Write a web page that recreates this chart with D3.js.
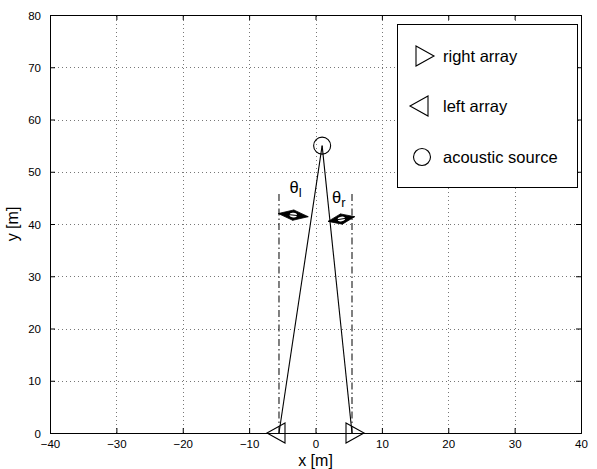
<!DOCTYPE html>
<html>
<head>
<meta charset="utf-8">
<script src="https://cdn.jsdelivr.net/npm/d3@7"></script>
<style>
  html, body { margin: 0; padding: 0; background: #fff; }
  svg { display: block; font-family: "Liberation Sans", Arial, Helvetica, sans-serif; }
</style>
</head>
<body>
<svg id="chart" width="597" height="469"></svg>
<script>
// Geometry of the two-array acoustic localisation setup
const xDomain = [-40, 40];
const yDomain = [0, 80];
const xTicks = [-40, -30, -20, -10, 0, 10, 20, 30, 40];
const yTicks = [0, 10, 20, 30, 40, 50, 60, 70, 80];

const rightArray = [5.5, 0];
const leftArray = [-5.5, 0];
const source = [1, 55];

// vertical reference lines through each array (dash-dot)
const refLines = [
  [[-5.5, 0], [-5.5, 46]],
  [[5.5, 0], [5.5, 46]]
];

// double-headed arrows marking the bearing angles
const angleArrows = [
  [[-5.6, 42.0], [-1.1, 41.4]],
  [[1.9, 40.5], [5.9, 41.4]]
];

const angleLabels = [
  { pos: [-3.9, 45.9], main: "θ", sub: "l" },
  { pos: [2.5, 44.0], main: "θ", sub: "r" }
];

const legendItems = [
  { marker: "right", label: "right array" },
  { marker: "left", label: "left array" },
  { marker: "circle", label: "acoustic source" }
];

const W = 597, H = 469;
const margin = { left: 50, right: 16, top: 15, bottom: 36 };
const svg = d3.select("#chart");

const x = d3.scaleLinear().domain(xDomain).range([margin.left, W - margin.right]);
const y = d3.scaleLinear().domain(yDomain).range([H - margin.bottom, margin.top]);

const x0 = x.range()[0], x1 = x.range()[1];
const y0 = y.range()[0], y1 = y.range()[1];

// grid
const grid = svg.append("g").attr("stroke", "#777").attr("stroke-width", 1)
  .attr("stroke-dasharray", "1,3").attr("shape-rendering", "crispEdges");
grid.selectAll(".gx").data(xTicks.slice(1, -1)).join("line")
  .attr("x1", d => Math.round(x(d)) + 0.5).attr("x2", d => Math.round(x(d)) + 0.5)
  .attr("y1", y0).attr("y2", y1);
grid.selectAll(".gy").data(yTicks.slice(1, -1)).join("line")
  .attr("y1", d => Math.round(y(d)) + 0.5).attr("y2", d => Math.round(y(d)) + 0.5)
  .attr("x1", x0).attr("x2", x1);

// axes with inward ticks on all four sides
const fmt = d => (d < 0 ? "\u2212" + Math.abs(d) : String(d));
const tickLen = 5;

const axB = svg.append("g").attr("transform", `translate(0,${y0})`)
  .call(d3.axisBottom(x).tickValues(xTicks).tickSize(-tickLen).tickPadding(7).tickFormat(fmt));
const axT = svg.append("g").attr("transform", `translate(0,${y1})`)
  .call(d3.axisTop(x).tickValues(xTicks).tickSize(-tickLen).tickFormat(""));
const axL = svg.append("g").attr("transform", `translate(${x0},0)`)
  .call(d3.axisLeft(y).tickValues(yTicks).tickSize(-tickLen).tickPadding(9).tickFormat(fmt));
const axR = svg.append("g").attr("transform", `translate(${x1},0)`)
  .call(d3.axisRight(y).tickValues(yTicks).tickSize(-tickLen).tickFormat(""));

[axB, axT, axL, axR].forEach(a => {
  a.select(".domain").attr("stroke", "#000").attr("stroke-width", 1);
  a.selectAll(".tick line").attr("stroke", "#000");
  a.selectAll("text").attr("fill", "#000").attr("font-size", 11.5)
    .attr("font-family", "'Liberation Sans', Arial, sans-serif");
});
axL.selectAll("text").attr("dy", "0.35em");

// axis titles
svg.append("text").attr("x", (x0 + x1) / 2).attr("y", 465.5)
  .attr("text-anchor", "middle").attr("font-size", 16).text("x [m]");
svg.append("text").attr("transform", `translate(18,${(y0 + y1) / 2}) rotate(-90)`)
  .attr("text-anchor", "middle").attr("font-size", 16).text("y [m]");

const plot = svg.append("g");

// dash-dot reference verticals
plot.selectAll(".ref").data(refLines).join("line")
  .attr("x1", d => x(d[0][0])).attr("y1", d => y(d[0][1]))
  .attr("x2", d => x(d[1][0])).attr("y2", d => y(d[1][1]))
  .attr("stroke", "#000").attr("stroke-width", 1)
  .attr("stroke-dasharray", "7,3,1.5,3");

// lines of sight from each array to the source
plot.selectAll(".sight").data([leftArray, rightArray]).join("line")
  .attr("x1", d => x(d[0])).attr("y1", d => y(d[1]))
  .attr("x2", x(source[0])).attr("y2", y(source[1]))
  .attr("stroke", "#000").attr("stroke-width", 1.1);

// marker shapes, centred on the centroid like the plotting convention
function markerPath(type) {
  if (type === "right") return "M-6,-10L12,0L-6,10Z";
  if (type === "left") return "M6,-10L-12,0L6,10Z";
  return d3.arc()({ innerRadius: 0, outerRadius: 8.5, startAngle: 0, endAngle: 2 * Math.PI });
}

const markers = [
  { pos: rightArray, type: "right" },
  { pos: leftArray, type: "left" },
  { pos: source, type: "circle" }
];
plot.selectAll(".mk").data(markers).join("path")
  .attr("transform", d => `translate(${x(d.pos[0])},${y(d.pos[1])})`)
  .attr("d", d => markerPath(d.type))
  .attr("fill", "none").attr("stroke", "#000").attr("stroke-width", 1.1);

// double-headed angle arrows
const arrows = plot.selectAll(".arr").data(angleArrows).join("g");
arrows.each(function (d) {
  const g = d3.select(this);
  const ax = x(d[0][0]), ay = y(d[0][1]);
  const bx = x(d[1][0]), by = y(d[1][1]);
  const len = Math.hypot(bx - ax, by - ay);
  const ux = (bx - ax) / len, uy = (by - ay) / len;
  const px = -uy, py = ux;
  const hl = len / 2, hw = 5.2;
  const head = (tx, ty, dir) => {
    const bxh = tx - dir * ux * hl, byh = ty - dir * uy * hl;
    return `M${tx},${ty}L${bxh + px * hw},${byh + py * hw}L${bxh - px * hw},${byh - py * hw}Z`;
  };
  g.append("path").attr("d", head(bx, by, 1)).attr("fill", "#000")
    .attr("stroke", "#000").attr("stroke-width", 0.8).attr("stroke-linejoin", "round");
  g.append("path").attr("d", head(ax, ay, -1)).attr("fill", "#000")
    .attr("stroke", "#000").attr("stroke-width", 0.8).attr("stroke-linejoin", "round");
  const mx = (ax + bx) / 2, my = (ay + by) / 2;
  const ang = Math.atan2(uy, ux) * 180 / Math.PI;
  g.append("ellipse").attr("cx", mx).attr("cy", my).attr("rx", 3.8).attr("ry", 2.3)
    .attr("transform", `rotate(${ang},${mx},${my})`).attr("fill", "#fff");
  g.append("line").attr("x1", ax).attr("y1", ay).attr("x2", bx).attr("y2", by)
    .attr("stroke", "#000").attr("stroke-width", 1);
});

// angle labels
const lab = plot.selectAll(".lab").data(angleLabels).join("text")
  .attr("x", d => x(d.pos[0])).attr("y", d => y(d.pos[1]))
  .attr("font-size", 16.5);
lab.append("tspan").text(d => d.main);
lab.append("tspan").attr("dy", 4).attr("font-size", 13).text(d => d.sub);

// legend
const lg = svg.append("g");
lg.append("rect").attr("x", 397.5).attr("y", 24.5).attr("width", 180).attr("height", 163)
  .attr("fill", "#fff").attr("stroke", "#000").attr("stroke-width", 1);
const rowY = [56, 106, 157];
const items = lg.selectAll(".li").data(legendItems).join("g")
  .attr("transform", (d, i) => `translate(422,${rowY[i]})`);
items.append("path").attr("d", d => markerPath(d.marker))
  .attr("fill", "none").attr("stroke", "#000").attr("stroke-width", 1.1);
items.append("text").attr("x", 21).attr("dy", "0.35em").attr("font-size", 16.5)
  .text(d => d.label);
</script>
</body>
</html>
